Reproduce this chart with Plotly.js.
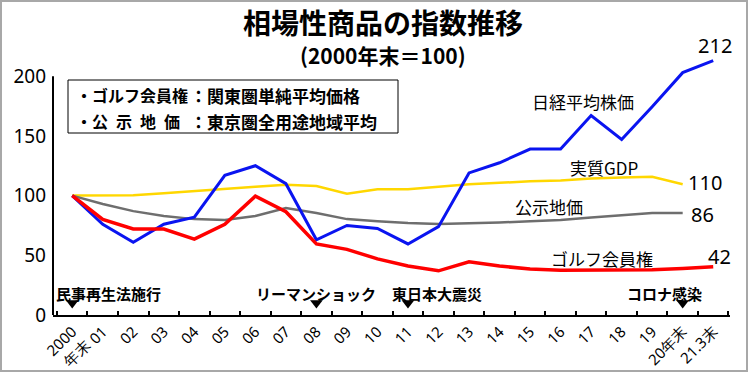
<!DOCTYPE html>
<html>
<head>
<meta charset="utf-8">
<script src="https://cdn.plot.ly/plotly-3.0.1.min.js"></script>
<style>
  html, body { margin: 0; padding: 0; background: #fff; }
  #wrap { position: relative; width: 748px; height: 372px; }
  #chart { width: 748px; height: 372px; }
  #frame { position: absolute; left: 0; top: 0; width: 748px; height: 372px; box-sizing: border-box; border: 2px solid #a8a8a8; pointer-events: none; }
</style>
</head>
<body>
<div id="wrap"><div id="chart"></div><div id="frame"></div></div>
<script>
// ---- data ----
const categories = ['2000<br>年末','01','02','03','04','05','06','07','08','09','10','11','12','13','14','15','16','17','18','19','20年末','21.3末'];
const nikkei = [100, 76, 61, 76, 82, 117, 125, 110, 63, 75, 72.5, 59.5, 74, 119, 127.5, 139, 139, 167, 147, 174.5, 203, 213];
const gdp    = [100, 100.4, 100.4, 102, 104, 106, 107.5, 109, 108, 101.5, 105.4, 105.4, 107.4, 109.6, 110.7, 112, 112.6, 114.4, 115.2, 115.7, 109.5];
const landPrice = [100, 93, 87, 83, 80.3, 79.5, 83, 89.5, 85.4, 80.3, 78.5, 77, 76.2, 76.7, 77.5, 78.5, 79.5, 81.7, 83.7, 85.4, 85.5];
const golf   = [100, 80, 72, 72, 63.6, 76, 99.6, 86.5, 59.5, 55, 47, 41, 37, 44.5, 41, 38.5, 37.5, 37.7, 38.2, 38, 39, 40.5];
const seriesNames = ['日経平均株価','実質GDP','公示地価','ゴルフ会員権'];
const endLabels = ['212','110','86','42'];
const eventCats = ['2000<br>年末','08','11','20年末'];
const eventLabels = ['民事再生法施行','リーマンショック','東日本大震災','コロナ感染'];
const yTicks = [0, 50, 100, 150, 200];
const titleText = '相場性商品の指数推移';
const subtitleText = '(2000年末＝100)';
const noteLeft = ['・ゴルフ会員権','・公\u2002示\u2002地\u2002価'];
const noteRight = ['：関東圏単純平均価格','：東京圏全用途地域平均'];

// ---- layout helpers ----
const W = 748, H = 372;
const M = {l: 53, r: 18, t: 38, b: 57};
const pw = W - M.l - M.r, ph = H - M.t - M.b;
const px = x => (x - M.l) / pw;
const py = y => (H - M.b - y) / ph;

const JP = '"Noto Sans CJK JP", "Noto Sans", sans-serif';
const NUM = '"Liberation Sans Narrow", "Arial Narrow", "Noto Sans", sans-serif';

const line = (y, name, color, width) => ({
  type: 'scatter', mode: 'lines', name: name,
  x: categories.slice(0, y.length), y: y,
  line: {color: color, width: width}, hoverinfo: 'skip'
});

const traces = [
  line(gdp, seriesNames[1], '#FFD700', 2.5),
  line(landPrice, seriesNames[2], '#6E6E6E', 2.5),
  line(nikkei, seriesNames[0], '#0A14F0', 3),
  line(golf, seriesNames[3], '#FF0000', 3.5),
  {
    type: 'scatter', mode: 'markers', x: eventCats, y: eventCats.map(() => 10),
    marker: {symbol: 'triangle-down', size: 11, color: '#000'}, cliponaxis: false, hoverinfo: 'skip'
  }
];

const annotations = [];
// subtitle
annotations.push({xref: 'paper', yref: 'paper', x: px(383), y: py(55), text: subtitleText, showarrow: false,
  xanchor: 'center', yanchor: 'middle', font: {family: JP, size: 21, color: '#000', weight: 700}});
// note box texts
[95, 121].forEach((yy, i) => {
  annotations.push({xref: 'paper', yref: 'paper', x: px(74), y: py(yy), text: noteLeft[i], showarrow: false,
    xanchor: 'left', yanchor: 'middle', font: {family: JP, size: 16, color: '#000', weight: 700}});
  annotations.push({xref: 'paper', yref: 'paper', x: px(188), y: py(yy), text: noteRight[i], showarrow: false,
    xanchor: 'left', yanchor: 'middle', font: {family: JP, size: 17, color: '#000', weight: 700}});
});
// event labels
const evShift = [36, 0, 29, -18];
const evIdx = eventCats.map(c => categories.indexOf(c));
eventLabels.forEach((t, i) => {
  annotations.push({xref: 'x', yref: 'y', x: evIdx[i], y: 18, text: t, showarrow: false, xshift: evShift[i],
    xanchor: 'center', yanchor: 'middle', font: {family: JP, size: 15, color: '#000', weight: 700}});
});
// series labels
const seriesLabelPos = [[16.75, 179], [17.41, 123.3], [15.62, 90.6], [17.37, 47.7]];
seriesNames.forEach((t, i) => {
  annotations.push({xref: 'x', yref: 'y', x: seriesLabelPos[i][0], y: seriesLabelPos[i][1], text: t, showarrow: false,
    xanchor: 'center', yanchor: 'middle', font: {family: JP, size: 17, color: '#000'}});
});
// end labels
const endPos = [[21.06, 226], [20.72, 110.7], [20.64, 84.5], [21.19, 49.4]];
endLabels.forEach((t, i) => {
  annotations.push({xref: 'x', yref: 'y', x: endPos[i][0], y: endPos[i][1], text: t, showarrow: false,
    xanchor: 'center', yanchor: 'middle', font: {family: NUM, size: 20, color: '#000'}});
});

const layout = {
  width: W, height: H, margin: M,
  paper_bgcolor: '#fff', plot_bgcolor: '#fff', showlegend: false,
  title: {text: titleText, xref: 'container', yref: 'container', x: 383 / W, y: 1 - 24 / H,
    xanchor: 'center', yanchor: 'middle', font: {family: JP, size: 28, color: '#000', weight: 700}},
  xaxis: {
    type: 'category', categoryorder: 'array', categoryarray: categories,
    range: [-0.63, 21.55], tickson: 'boundaries', ticks: 'inside', ticklen: 4, tickwidth: 2, tickcolor: '#000',
    showline: true, linecolor: '#000', linewidth: 2, showgrid: false, zeroline: false,
    tickangle: -45, tickfont: {family: NUM, size: 15, color: '#000'}, fixedrange: true
  },
  yaxis: {
    range: [0, 232], tickvals: yTicks, ticktext: yTicks.map(String), ticks: '',
    showline: false, showgrid: false, zeroline: false, ticklabelstandoff: 6,
    tickfont: {family: NUM, size: 19, color: '#000'}, fixedrange: true
  },
  shapes: [
    {type: 'line', xref: 'paper', yref: 'y', x0: 0, x1: 0, y0: 0, y1: 200, line: {color: '#000', width: 2}},
    {type: 'rect', xref: 'paper', yref: 'paper', x0: px(68), x1: px(398), y0: py(133), y1: py(80), line: {color: '#000', width: 1}, fillcolor: 'rgba(0,0,0,0)'}
  ],
  annotations: annotations
};

Plotly.newPlot('chart', traces, layout, {displayModeBar: false, staticPlot: true});
</script>
</body>
</html>
